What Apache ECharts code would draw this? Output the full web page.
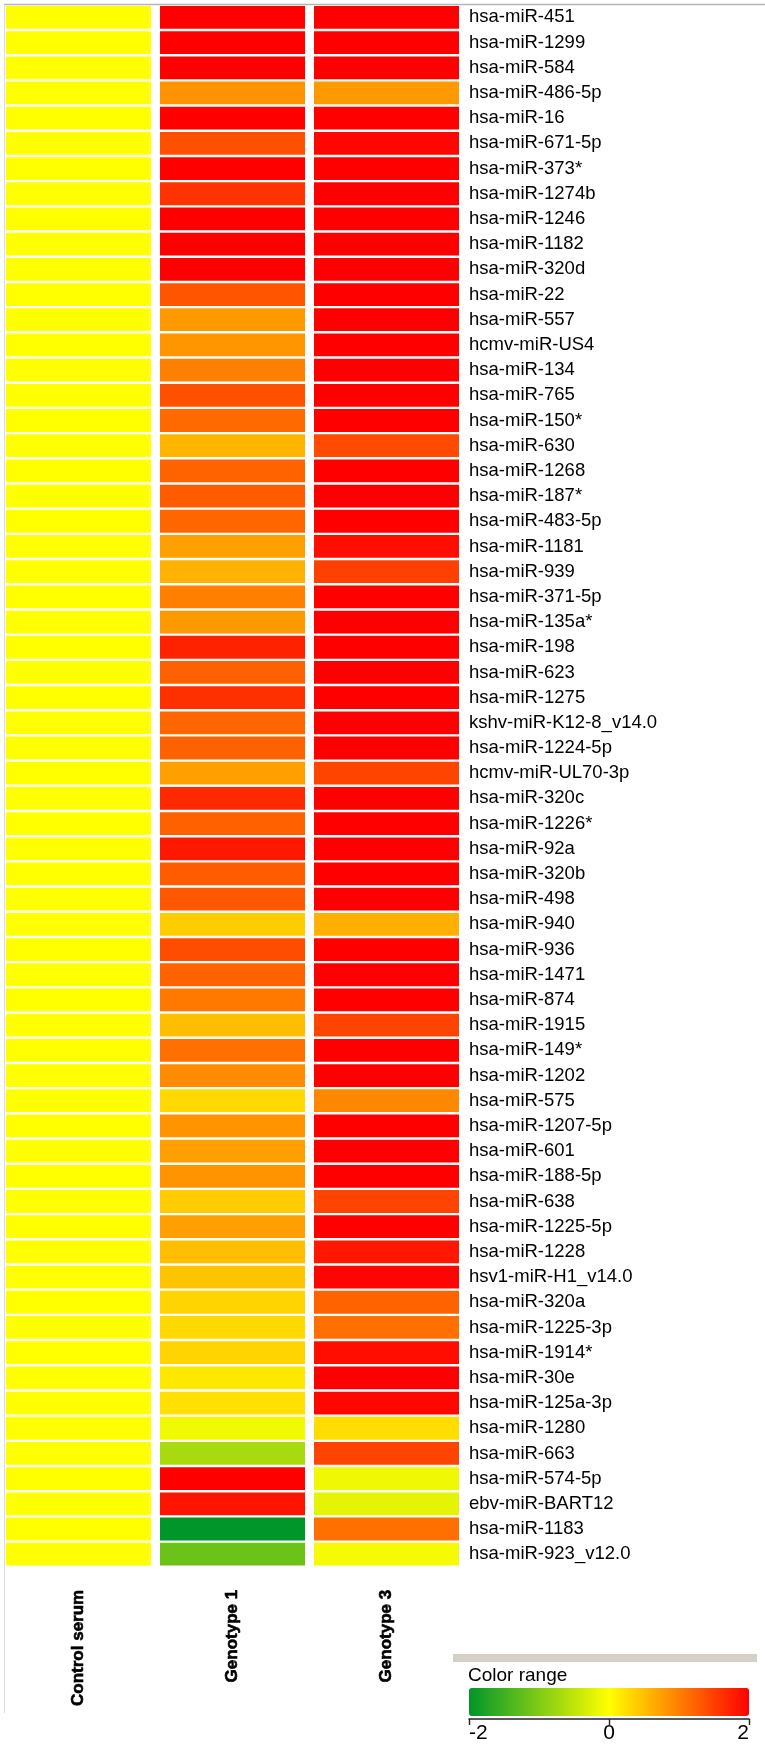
<!DOCTYPE html>
<html>
<head>
<meta charset="utf-8">
<script src="https://cdn.jsdelivr.net/npm/echarts@6/dist/echarts.min.js"></script>
<style>
html,body{margin:0;padding:0;background:#fff;}
#chart{width:765px;height:1752px;}
</style>
</head>
<body>
<div id="chart"></div>
<script>
const genes = [
  'hsa-miR-451','hsa-miR-1299','hsa-miR-584','hsa-miR-486-5p','hsa-miR-16','hsa-miR-671-5p',
  'hsa-miR-373*','hsa-miR-1274b','hsa-miR-1246','hsa-miR-1182','hsa-miR-320d','hsa-miR-22',
  'hsa-miR-557','hcmv-miR-US4','hsa-miR-134','hsa-miR-765','hsa-miR-150*','hsa-miR-630',
  'hsa-miR-1268','hsa-miR-187*','hsa-miR-483-5p','hsa-miR-1181','hsa-miR-939','hsa-miR-371-5p',
  'hsa-miR-135a*','hsa-miR-198','hsa-miR-623','hsa-miR-1275','kshv-miR-K12-8_v14.0','hsa-miR-1224-5p',
  'hcmv-miR-UL70-3p','hsa-miR-320c','hsa-miR-1226*','hsa-miR-92a','hsa-miR-320b','hsa-miR-498',
  'hsa-miR-940','hsa-miR-936','hsa-miR-1471','hsa-miR-874','hsa-miR-1915','hsa-miR-149*',
  'hsa-miR-1202','hsa-miR-575','hsa-miR-1207-5p','hsa-miR-601','hsa-miR-188-5p','hsa-miR-638',
  'hsa-miR-1225-5p','hsa-miR-1228','hsv1-miR-H1_v14.0','hsa-miR-320a','hsa-miR-1225-3p','hsa-miR-1914*',
  'hsa-miR-30e','hsa-miR-125a-3p','hsa-miR-1280','hsa-miR-663','hsa-miR-574-5p','ebv-miR-BART12',
  'hsa-miR-1183','hsa-miR-923_v12.0'
];
const columns = ['Control serum', 'Genotype 1', 'Genotype 3'];
const controlSerum = [
  0,0,0,0,0,0,0,0,0,0,
  0,0,0,0,0,0,0,0,0,0,
  0,0,0,0,0,0,0,0,0,0,
  0,0,0,0,0,0,0,0,0,0,
  0,0,0,0,0,0,0,0,0,0,
  0,0,0,0,0,0,0,0,0,0,
  0,0
];
const genotype1 = [
  2, 2, 2, 0.85, 2, 1.37, 2, 1.6, 2, 2,
  2, 1.33, 0.8, 0.82, 1.0, 1.37, 1.17, 0.59, 1.22, 1.28,
  1.2, 0.75, 0.6, 1.0, 0.8, 1.73, 1.25, 1.62, 1.2, 1.25,
  0.75, 1.69, 1.25, 1.81, 1.28, 1.31, 0.4, 1.4, 1.22, 1.06,
  0.5, 1.12, 0.9, 0.3, 0.84, 0.75, 0.84, 0.4, 0.75, 0.5,
  0.46, 0.34, 0.3, 0.34, 0.18, 0.24, -0.1, -0.68, 2, 1.84,
  -2, -1.15
];
const genotype3 = [
  2, 2, 2, 0.8, 2, 1.95, 2, 2, 2, 2,
  2, 2, 2, 2, 2, 2, 2, 1.42, 2, 2,
  2, 1.9, 1.5, 2, 2, 2, 2, 2, 2, 2,
  1.47, 2, 2, 2, 2, 2, 0.62, 2, 2, 2,
  1.47, 2, 2, 0.93, 2, 2, 2, 1.47, 2, 1.81,
  1.97, 1.22, 1.12, 1.9, 2, 1.95, 0.27, 1.47, -0.12, -0.21,
  1.12, -0.08
];
const scaleMin = -2, scaleMax = 2, scaleStep = 2;
const scaleColors = ['#00962a', '#ffff00', '#ff0000'];

const columnValues = [controlSerum, genotype1, genotype3];
const cells = [];
columnValues.forEach((vals, ci) => {
  vals.forEach((v, ri) => cells.push([ci, ri, v]));
});

const COL_GAP = 9, ROW_GAP = 2.4;
function renderCell(params, api) {
  const c = api.coord([api.value(0), api.value(1)]);
  const s = api.size([1, 1]);
  const w = s[0] - COL_GAP, h = s[1] - ROW_GAP;
  return {
    type: 'rect',
    shape: { x: c[0] - w / 2, y: c[1] - h / 2, width: w, height: h },
    style: { fill: api.visual('color') }
  };
}

const chart = echarts.init(document.getElementById('chart'), null, { renderer: 'canvas' });
chart.setOption({
  animation: false,
  backgroundColor: '#fff',
  grid: [
    { left: 1.5, width: 462, top: 4.8, height: 1562 },
    { left: 469, width: 280, top: 1718, height: 1 }
  ],
  xAxis: [
    {
      gridIndex: 0, type: 'category', data: columns, position: 'bottom',
      axisLine: { show: false }, axisTick: { show: false }, splitLine: { show: false },
      axisLabel: {
        interval: 0, rotate: 90, margin: 23,
        fontFamily: 'Liberation Sans', fontSize: 17, fontWeight: 'bold', color: '#000',
        textBorderColor: '#000', textBorderWidth: 0.6
      }
    },
    {
      gridIndex: 1, type: 'value', min: scaleMin, max: scaleMax, interval: scaleStep,
      position: 'bottom',
      axisLine: { show: true, onZero: false, lineStyle: { color: '#222', width: 1.6 } },
      axisTick: { show: true, inside: false, length: 6, lineStyle: { color: '#222', width: 1.4 } },
      splitLine: { show: false },
      axisLabel: {
        margin: 4, fontFamily: 'Liberation Sans', fontSize: 21, color: '#000',
        alignMinLabel: 'left', alignMaxLabel: 'right'
      }
    }
  ],
  yAxis: [
    {
      gridIndex: 0, type: 'category', data: genes, inverse: true, position: 'right',
      axisLine: { show: false }, axisTick: { show: false }, splitLine: { show: false },
      axisLabel: {
        interval: 0, margin: 5.5, align: 'left',
        fontFamily: 'Liberation Sans', fontSize: 18.5, color: '#000'
      }
    },
    { gridIndex: 1, type: 'value', show: false }
  ],
  visualMap: {
    type: 'continuous', min: scaleMin, max: scaleMax, seriesIndex: 0, dimension: 2,
    calculable: false, hoverLink: false, orient: 'horizontal',
    left: 469, top: 1688, itemWidth: 28, itemHeight: 280, padding: 0,
    text: null, showLabel: false,
    inRange: { color: scaleColors }
  },
  graphic: [
    { type: 'line', shape: { x1: 4, y1: 4.5, x2: 765, y2: 4.5 }, style: { stroke: '#b4b4b4', lineWidth: 1.5 }, silent: true },
    { type: 'line', shape: { x1: 4.5, y1: 4.5, x2: 4.5, y2: 1713 }, style: { stroke: '#dcdcdc', lineWidth: 1 }, silent: true },
    { type: 'rect', shape: { x: 453, y: 1654, width: 304, height: 8 }, style: { fill: '#d4d0c8' }, silent: true },
    { type: 'text', left: 468, top: 1666, style: { text: 'Color range', font: '19px "Liberation Sans"', fill: '#000' }, silent: true }
  ],
  series: [{
    type: 'custom', xAxisIndex: 0, yAxisIndex: 0,
    renderItem: renderCell, data: cells, encode: { x: 0, y: 1 }
  }]
});
</script>
</body>
</html>
